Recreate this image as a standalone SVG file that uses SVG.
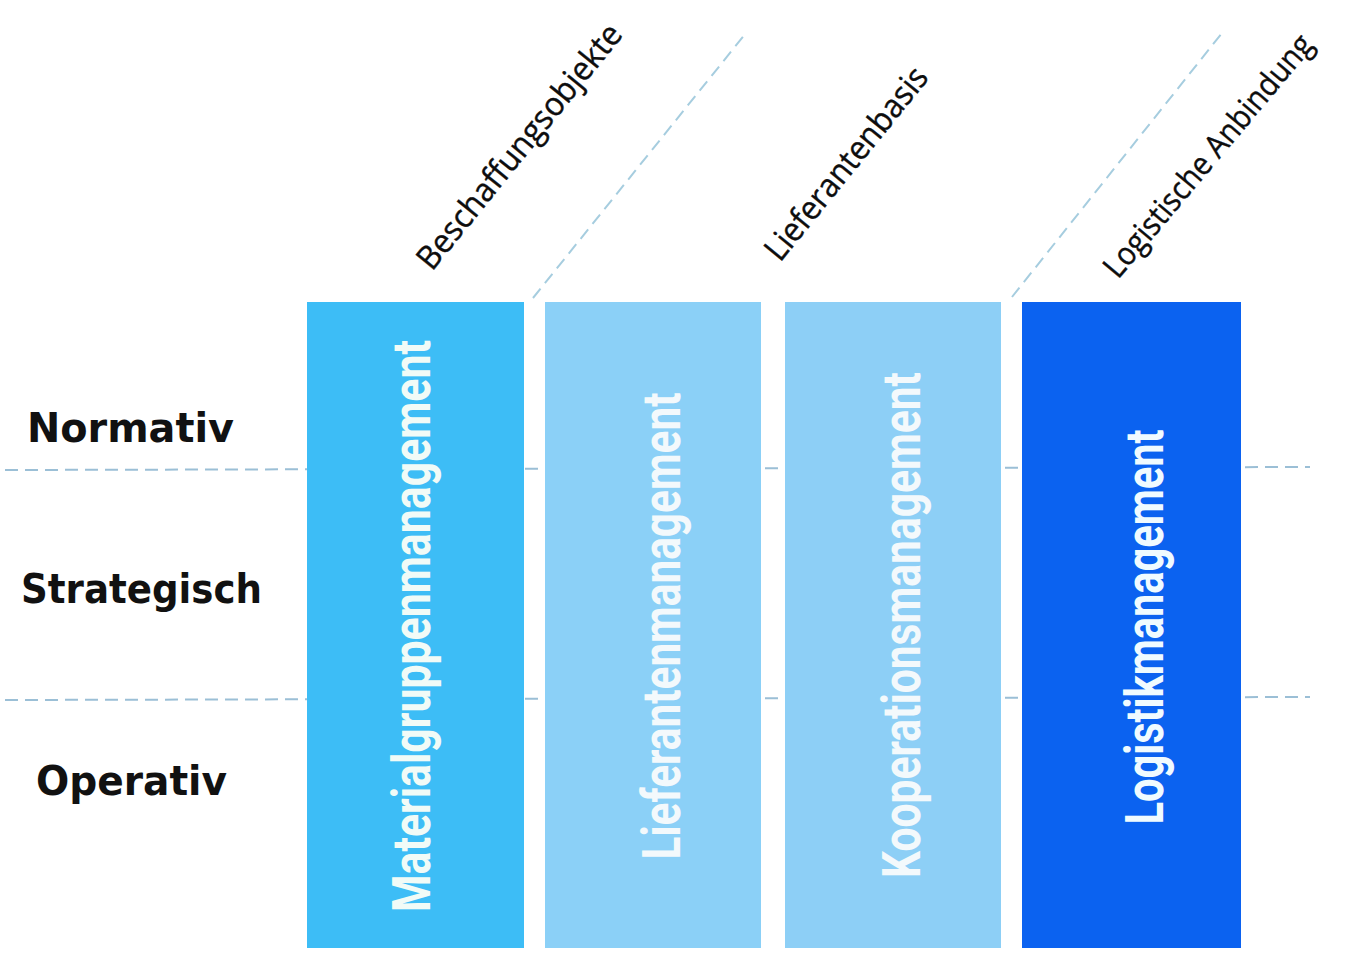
<svg xmlns="http://www.w3.org/2000/svg" width="1346" height="953" viewBox="0 0 1346 953">
  <style>
    .guide { fill: none; stroke: #9bbfd6; stroke-width: 2; stroke-dasharray: 13 7; }
    .diag { fill: none; stroke: #a6cddf; stroke-width: 2; stroke-dasharray: 12 7; }
    .level { font-family: "DejaVu Sans", "Liberation Sans", sans-serif; font-weight: bold; font-size: 40px; fill: #111111; }
    .head { font-family: "Open Sans", "Liberation Sans", sans-serif; font-size: 33px; fill: #0d0d0d; stroke: #0d0d0d; stroke-width: 0.4; }
    .coltext { font-family: Roboto, "Liberation Sans", sans-serif; font-weight: bold; font-size: 53px; text-anchor: middle; }
  </style>
  <rect width="1346" height="953" fill="#ffffff"/>

  <g id="connectors">
    <line class="guide" x1="5" y1="470" x2="1310" y2="467"/>
    <line class="guide" x1="5" y1="700" x2="1310" y2="697"/>
    <line class="diag" x1="533" y1="298" x2="746" y2="33"/>
    <line class="diag" x1="1012" y1="297" x2="1222" y2="33"/>
  </g>

  <g id="level-normativ"><text class="level" x="27" y="442" textLength="207" lengthAdjust="spacingAndGlyphs">Normativ</text></g>
  <g id="level-strategisch"><text class="level" x="21" y="603" textLength="241" lengthAdjust="spacingAndGlyphs">Strategisch</text></g>
  <g id="level-operativ"><text class="level" x="36" y="795" textLength="191" lengthAdjust="spacingAndGlyphs">Operativ</text></g>

  <g id="head-beschaffungsobjekte"><text class="head" transform="translate(432,272) rotate(-51)" textLength="305" lengthAdjust="spacingAndGlyphs">Beschaffungsobjekte</text></g>
  <g id="head-lieferantenbasis"><text class="head" transform="translate(780,263) rotate(-51)" textLength="238" lengthAdjust="spacingAndGlyphs">Lieferantenbasis</text></g>
  <g id="head-logistische-anbindung"><text class="head" style="font-size:32px" transform="translate(1118,280) rotate(-50)" textLength="306" lengthAdjust="spacingAndGlyphs">Logistische Anbindung</text></g>

  <g id="col-materialgruppenmanagement">
    <rect x="307" y="302" width="217" height="646" fill="#3dbdf6"/>
    <text class="coltext" fill="#f1fbf7" transform="translate(430,626) rotate(-90)" textLength="572" lengthAdjust="spacingAndGlyphs">Materialgruppenmanagement</text>
  </g>
  <g id="col-lieferantenmanagement">
    <rect x="545" y="302" width="216" height="646" fill="#8bd0f7"/>
    <text class="coltext" fill="#f3f9fc" transform="translate(680,626) rotate(-90)" textLength="467" lengthAdjust="spacingAndGlyphs">Lieferantenmanagement</text>
  </g>
  <g id="col-kooperationsmanagement">
    <rect x="785" y="302" width="216" height="646" fill="#8dcff6"/>
    <text class="coltext" fill="#f3f9fc" transform="translate(920,625) rotate(-90)" textLength="506" lengthAdjust="spacingAndGlyphs">Kooperationsmanagement</text>
  </g>
  <g id="col-logistikmanagement">
    <rect x="1022" y="302" width="219" height="646" fill="#0b62f0"/>
    <text class="coltext" fill="#f0fbff" transform="translate(1163,627) rotate(-90)" textLength="395" lengthAdjust="spacingAndGlyphs">Logistikmanagement</text>
  </g>
</svg>
